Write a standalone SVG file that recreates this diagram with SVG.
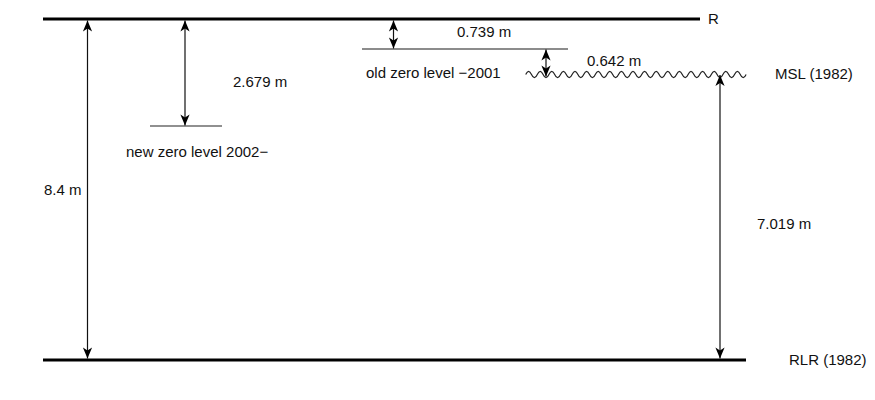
<svg xmlns="http://www.w3.org/2000/svg" width="875" height="400" viewBox="0 0 875 400">
<style>
text{font-family:"Liberation Sans",Arial,sans-serif;font-size:15px;fill:#111}
.lvl{stroke:#000;stroke-width:3;fill:none}
.thin{stroke:#222;stroke-width:1.2;fill:none}
.gray{stroke:#666;stroke-width:1.5;fill:none}
.arr{stroke:#111;stroke-width:1.2;fill:none;marker-start:url(#ah);marker-end:url(#ah)}
</style>
<defs>
<marker id="ah" markerUnits="userSpaceOnUse" markerWidth="13" markerHeight="11" viewBox="-12 -5.5 13 11" refX="0" refY="0" orient="auto-start-reverse">
<path d="M0,0 L-11,-4.6 L-8,0 L-11,4.6 Z" fill="#000"/>
</marker>
</defs>
<g id="level-R"><line class="lvl" x1="43" y1="19" x2="700" y2="19"/><text x="708" y="24">R</text></g>
<g id="level-RLR"><line class="lvl" x1="43" y1="360" x2="746" y2="360"/><text x="789" y="365">RLR (1982)</text></g>
<g id="level-new"><line class="thin" x1="150" y1="126" x2="222" y2="126"/><text x="126" y="157">new zero level 2002−</text></g>
<g id="level-old"><line class="gray" x1="362" y1="49" x2="568" y2="49"/><text x="366" y="78">old zero level −2001</text></g>
<g id="level-MSL"><path class="thin" d="M525.7,74.5 q2.9,-6.4 5.8,0 t5.8,0 t5.8,0 t5.8,0 t5.8,0 t5.8,0 t5.8,0 t5.8,0 t5.8,0 t5.8,0 t5.8,0 t5.8,0 t5.8,0 t5.8,0 t5.8,0 t5.8,0 t5.8,0 t5.8,0 t5.8,0 t5.8,0 t5.8,0 t5.8,0 t5.8,0 t5.8,0 t5.8,0 t5.8,0 t5.8,0 t5.8,0 t5.8,0 t5.8,0 t5.8,0 t5.8,0 t5.8,0 t5.8,0 t5.8,0 t5.8,0 t5.8,0 t5.8,0"/><text x="775" y="79">MSL (1982)</text></g>
<g id="connectors">
<line class="arr" x1="87.5" y1="20.5" x2="87.5" y2="358.5"/>
<line class="arr" x1="185" y1="20.5" x2="185" y2="125.5"/>
<line class="arr" x1="393.5" y1="20.5" x2="393.5" y2="48.5"/>
<line class="arr" x1="546" y1="49.5" x2="546" y2="76.5"/>
<line class="arr" x1="720" y1="75" x2="720" y2="358.5"/>
</g>
<g id="labels">
<text x="44" y="195">8.4 m</text>
<text x="233" y="87">2.679 m</text>
<text x="457" y="37">0.739 m</text>
<text x="587" y="66">0.642 m</text>
<text x="757" y="229">7.019 m</text>
</g>
</svg>
